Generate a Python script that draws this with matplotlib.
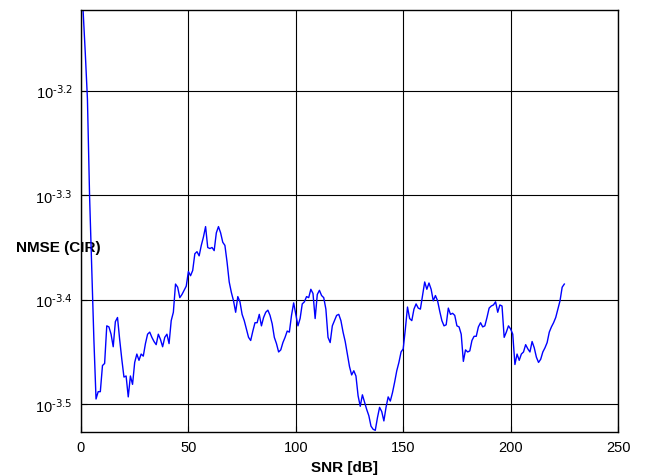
import numpy as np
import matplotlib
matplotlib.use("Agg")
import matplotlib.pyplot as plt
from matplotlib.ticker import FixedLocator, FixedFormatter, NullLocator

plt.rcParams['font.family'] = ['Liberation Sans', 'DejaVu Sans']
plt.rcParams['mathtext.default'] = 'regular'
plt.rcParams['axes.unicode_minus'] = False

# SNR axis in dB, one sample per dB
snr = np.arange(1, 226)

# NMSE of the channel impulse response, stored as log10 exponents
nmse_exp = [
    -3.124, -3.164, -3.208, -3.301, -3.371, -3.438, -3.495, -3.488, -3.488, -3.463,
    -3.461, -3.425, -3.426, -3.433, -3.445, -3.421, -3.417, -3.438, -3.457, -3.474,
    -3.473, -3.493, -3.473, -3.481, -3.460, -3.452, -3.458, -3.452, -3.454, -3.442,
    -3.433, -3.431, -3.436, -3.440, -3.443, -3.433, -3.438, -3.445, -3.436, -3.433,
    -3.442, -3.420, -3.412, -3.385, -3.388, -3.398, -3.395, -3.391, -3.387, -3.373,
    -3.377, -3.372, -3.356, -3.354, -3.358, -3.348, -3.340, -3.330, -3.350, -3.351,
    -3.350, -3.353, -3.336, -3.330, -3.336, -3.345, -3.348, -3.364, -3.383, -3.393,
    -3.401, -3.412, -3.397, -3.402, -3.414, -3.420, -3.428, -3.436, -3.439, -3.430,
    -3.422, -3.422, -3.414, -3.425, -3.417, -3.412, -3.410, -3.415, -3.423, -3.436,
    -3.442, -3.450, -3.448, -3.441, -3.436, -3.430, -3.431, -3.415, -3.403, -3.414,
    -3.425, -3.418, -3.404, -3.402, -3.397, -3.398, -3.390, -3.394, -3.418, -3.395,
    -3.391, -3.396, -3.398, -3.409, -3.436, -3.441, -3.425, -3.420, -3.415, -3.414,
    -3.420, -3.431, -3.440, -3.452, -3.464, -3.472, -3.468, -3.473, -3.492, -3.502,
    -3.491, -3.498, -3.505, -3.511, -3.521, -3.524, -3.525, -3.513, -3.503, -3.507,
    -3.516, -3.503, -3.493, -3.497, -3.489, -3.479, -3.468, -3.460, -3.450, -3.447,
    -3.428, -3.407, -3.418, -3.420, -3.409, -3.404, -3.408, -3.409, -3.396, -3.383,
    -3.390, -3.384, -3.390, -3.401, -3.396, -3.401, -3.411, -3.420, -3.425, -3.424,
    -3.408, -3.414, -3.413, -3.415, -3.425, -3.426, -3.433, -3.459, -3.448, -3.450,
    -3.449, -3.439, -3.435, -3.435, -3.426, -3.422, -3.426, -3.425, -3.417, -3.408,
    -3.406, -3.405, -3.402, -3.412, -3.405, -3.406, -3.436, -3.431, -3.425, -3.428,
    -3.433, -3.462, -3.452, -3.458, -3.452, -3.450, -3.443, -3.447, -3.450, -3.440,
    -3.446, -3.455, -3.460, -3.457, -3.450, -3.446, -3.441, -3.431, -3.426, -3.422,
    -3.417, -3.409, -3.401, -3.388, -3.385,
]
nmse = 10.0 ** np.array(nmse_exp)

ytick_exp = [-3.5, -3.4, -3.3, -3.2]
ytick_labels = [r'$10^{\text{%s}}$' % e for e in ytick_exp]
xticks = [0, 50, 100, 150, 200, 250]

fig = plt.figure(figsize=(6.5, 4.77), dpi=100)
ax = fig.add_axes([0.1246, 0.0929, 0.8262, 0.8838])

ax.semilogy(snr, nmse, color='#0000ff', lw=1.0)

ax.set_xlim(0, 250)
ax.set_ylim(10 ** -3.5263, 10 ** -3.1228)

ax.set_xticks(xticks)
ax.yaxis.set_major_locator(FixedLocator([10 ** e for e in ytick_exp]))
ax.yaxis.set_major_formatter(FixedFormatter(ytick_labels))
ax.yaxis.set_minor_locator(NullLocator())

ax.grid(True, color='black', linestyle='-', linewidth=0.8)
ax.tick_params(direction='in', length=4, width=0.8, labelsize=10.5, pad=6)
for sp in ax.spines.values():
    sp.set_linewidth(1.0)

ax.set_xlabel('SNR [dB]', fontsize=11, fontweight='bold')
ax.xaxis.set_label_coords(0.49, -0.066)
ax.set_ylabel('NMSE (CIR)', fontsize=11, fontweight='bold', rotation=0,
              ha='center', va='center')
ax.yaxis.set_label_coords(-0.043, 0.438)

fig.savefig('out.png', dpi=100)
